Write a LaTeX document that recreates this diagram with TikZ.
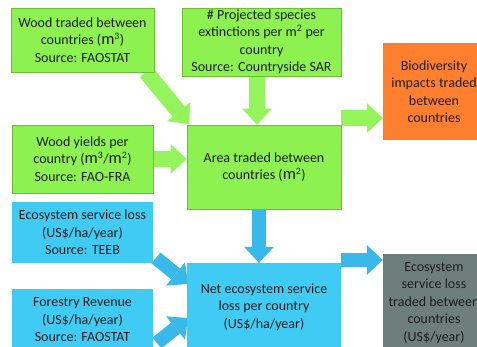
\documentclass[tikz,border=0pt]{standalone}
\usepackage{fontspec}
\setmainfont{Carlito}
\usetikzlibrary{arrows.meta}
\pgfdeclarelayer{bg}
\pgfsetlayers{bg,main}
\definecolor{gfill}{HTML}{8DF24F}
\definecolor{gline}{HTML}{6DBE35}
\definecolor{garrow}{HTML}{94F45C}
\definecolor{bfill}{HTML}{40CBF5}
\definecolor{barrow}{HTML}{38B9E9}
\definecolor{ofill}{HTML}{FF7F2F}
\definecolor{grfill}{HTML}{6E7E7B}
\definecolor{txt}{HTML}{1E1E1E}
\newcommand\bigmm{{\fontsize{16.5}{17.5}\selectfont m}}
\begin{document}
\begin{tikzpicture}[x=1pt,y=-1pt,
  box/.style={inner sep=0pt, align=center, text=txt, font=\fontsize{14}{17.5}\selectfont},
  greenbox/.style={box, fill=gfill, draw=gline, line width=0.8pt},
  bluebox/.style={box, fill=bfill},
  orangebox/.style={box, fill=ofill},
  greybox/.style={box, fill=grfill},
  garr/.style={draw=garrow, line width=16pt, -{Triangle[width=30pt,length=16pt,line width=0pt]}},
  barr/.style={draw=barrow, line width=14pt, -{Triangle[width=30pt,length=16pt,line width=0pt]}}
]
\useasboundingbox (0,0) rectangle (477,346);
\clip (0,0) rectangle (477,346);

\node[greenbox, minimum width=143pt, minimum height=64pt] (wood) at (82.5,40)
  {Wood traded between\\countries (\bigmm\textsuperscript{3})\\Source: FAOSTAT};
\node[greenbox, minimum width=159pt, minimum height=68pt] (species) at (261.5,42)
  {\# Projected species\\extinctions per m\textsuperscript{2} per\\country\\Source: Countryside SAR};
\node[orangebox, minimum width=102pt, minimum height=97pt] (bio) at (434,91.5)
  {Biodiversity\\impacts traded\\between\\countries};
\node[greenbox, minimum width=141pt, minimum height=68pt] (yields) at (82.5,159)
  {Wood yields per\\country (\bigmm\textsuperscript{3}/\bigmm\textsuperscript{2})\\Source: FAO-FRA};
\node[greenbox, minimum width=154pt, minimum height=84pt] (area) at (264,167)
  {Area traded between\\countries (\bigmm\textsuperscript{2})};
\node[bluebox, minimum width=141pt, minimum height=61pt] (esl) at (82.5,232.5)
  {Ecosystem service loss\\(US\$/ha/year)\\Source: TEEB};
\node[bluebox, minimum width=141pt, minimum height=62pt] (forest) at (82.5,320)
  {Forestry Revenue\\(US\$/ha/year)\\Source: FAOSTAT};
\node[bluebox, minimum width=154pt, minimum height=88pt] (net) at (264,307)
  {Net ecosystem service\\loss per country\\(US\$/ha/year)};
\node[greybox, minimum width=102pt, minimum height=98pt] (grey) at (434,303)
  {Ecosystem\\service loss\\traded between\\countries\\(US\$/year)};

\coordinate (w1) at (146,72);
\coordinate (w2) at (189,124);
\coordinate (a1) at (341,118);
\coordinate (n1) at (341,260);
\coordinate (e1) at (156,258);
\coordinate (e2) at (188,284);
\coordinate (f1) at (157,343);
\coordinate (f2) at (188,318);

\begin{pgfonlayer}{bg}
\draw[garr] (w1) -- (w2);
\draw[garr] ([xshift=-4.5pt]species.south) -- ([xshift=-7pt]area.north);
\draw[garr] (yields.east) -- (yields.east -| area.west);
\draw[garr] (a1) -- (a1 -| bio.west);
\draw[barr] ([xshift=-5pt]area.south) -- ([xshift=-5pt]net.north);
\draw[barr] (n1) -- (n1 -| grey.west);
\draw[barr] (e1) -- (e2);
\draw[barr] (f1) -- (f2);
\end{pgfonlayer}
\end{tikzpicture}
\end{document}
